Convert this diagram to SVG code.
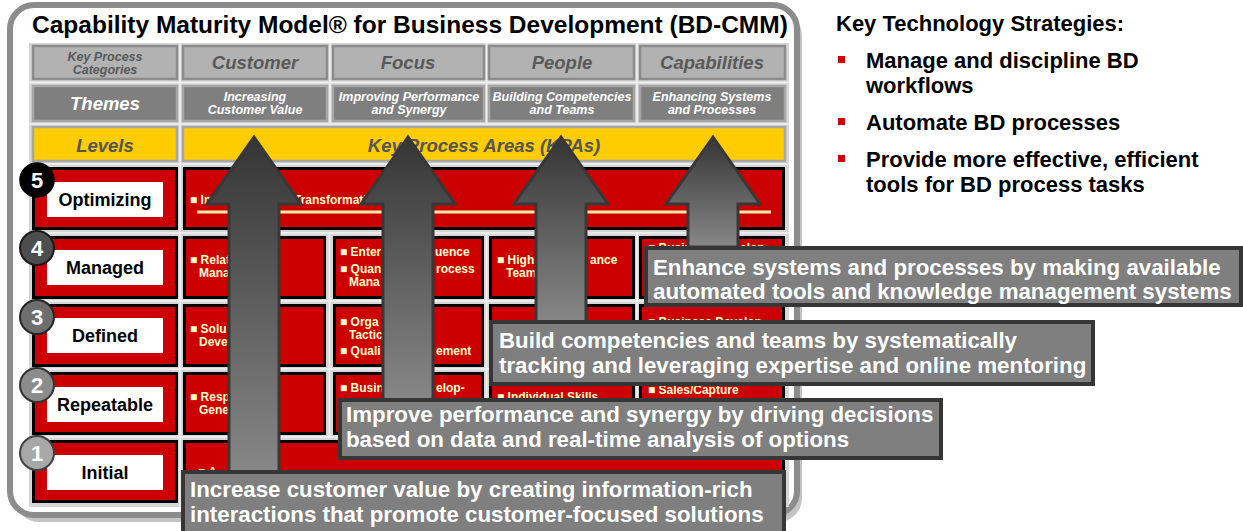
<svg xmlns="http://www.w3.org/2000/svg" width="1243" height="531" viewBox="0 0 1243 531">
<defs>
<linearGradient id="ag" x1="0" y1="0" x2="0" y2="1">
<stop offset="0" stop-color="#353535"/>
<stop offset="1" stop-color="#878787"/>
</linearGradient>
<style>
.t{font-family:"Liberation Sans",Arial,sans-serif;font-weight:bold}
.it{font-style:italic}
.h1{fill:#b2b2b2;stroke:#8c8c8c;stroke-width:2.5}
.h2{fill:#7f7f7f;stroke:#a6a6a6;stroke-width:2.5}
.h3{fill:#ffcc00;stroke:#a6a6a6;stroke-width:2.5}
.red{fill:#cc0000;stroke:#000;stroke-width:3}
.wb{fill:#fff}
.ct{fill:#ffffcc;font-size:12px}
.lv{font-size:18px;fill:#000;text-anchor:middle}
.num{font-size:22px;fill:#fff;text-anchor:middle}
.arrow{fill:url(#ag);stroke:#383838;stroke-width:3;stroke-linejoin:miter}
.co{fill:#7f7f7f;stroke:#363636;stroke-width:4}
.cot{font-size:22.3px;fill:#fff}
.rt{font-size:22px;fill:#000}
.sep{stroke:#f2f2f2;stroke-width:1.5}
</style>
</defs>
<rect width="1243" height="531" fill="#fff"/>

<g id="frame">
<rect x="15" y="12" width="787" height="510" rx="24" fill="#c4c4c4"/>
<rect x="10" y="5" width="787" height="510" rx="24" fill="#fff" stroke="#8c8c8c" stroke-width="6"/>
<rect x="29" y="43" width="760" height="464" fill="#d6d6d6"/>
<g class="sep">
<line x1="29" y1="82.5" x2="789" y2="82.5"/>
<line x1="29" y1="124" x2="789" y2="124"/>
<line x1="29" y1="164" x2="789" y2="164"/>
<line x1="29" y1="233" x2="789" y2="233"/>
<line x1="29" y1="301" x2="789" y2="301"/>
<line x1="29" y1="369" x2="789" y2="369"/>
<line x1="29" y1="437" x2="789" y2="437"/>
<line x1="180" y1="43" x2="180" y2="507"/>
<line x1="330" y1="43" x2="330" y2="124"/>
<line x1="486.5" y1="43" x2="486.5" y2="124"/>
<line x1="637" y1="43" x2="637" y2="124"/>
<line x1="329.5" y1="233" x2="329.5" y2="437"/>
<line x1="486.5" y1="233" x2="486.5" y2="437"/>
<line x1="637" y1="233" x2="637" y2="437"/>
</g>
<text class="t" x="32" y="33" font-size="24.5" fill="#000">Capability Maturity Model® for Business Development (BD-CMM)</text>
</g>

<g id="header-categories">
<rect class="h1" x="33" y="46" width="144" height="33"/>
<text class="t it" font-size="12.5" fill="#595959" text-anchor="middle"><tspan x="105" y="61">Key Process</tspan><tspan x="105" y="74">Categories</tspan></text>
</g>
<g id="cat-customer">
<rect class="h1" x="183" y="46" width="144" height="33"/>
<text class="t it" x="255" y="69" font-size="18.5" fill="#595959" text-anchor="middle">Customer</text>
</g>
<g id="cat-focus">
<rect class="h1" x="333" y="46" width="151" height="33"/>
<text class="t it" x="408" y="69" font-size="18.5" fill="#595959" text-anchor="middle">Focus</text>
</g>
<g id="cat-people">
<rect class="h1" x="489" y="46" width="145" height="33"/>
<text class="t it" x="562" y="69" font-size="18.5" fill="#595959" text-anchor="middle">People</text>
</g>
<g id="cat-capabilities">
<rect class="h1" x="640" y="46" width="145" height="33"/>
<text class="t it" x="712" y="69" font-size="18.5" fill="#595959" text-anchor="middle">Capabilities</text>
</g>

<g id="themes">
<rect class="h2" x="33" y="86" width="144" height="35"/>
<text class="t it" x="105" y="110" font-size="18.5" fill="#fff" text-anchor="middle">Themes</text>
</g>
<g id="theme-customer">
<rect class="h2" x="183" y="86" width="144" height="35"/>
<text class="t it" font-size="12.5" fill="#fff" text-anchor="middle"><tspan x="255" y="101">Increasing</tspan><tspan x="255" y="114">Customer Value</tspan></text>
</g>
<g id="theme-focus">
<rect class="h2" x="333" y="86" width="151" height="35"/>
<text class="t it" font-size="12.5" fill="#fff" text-anchor="middle"><tspan x="409" y="101">Improving Performance</tspan><tspan x="409" y="114">and Synergy</tspan></text>
</g>
<g id="theme-people">
<rect class="h2" x="489" y="86" width="145" height="35"/>
<text class="t it" font-size="12.5" fill="#fff" text-anchor="middle"><tspan x="562" y="101">Building Competencies</tspan><tspan x="562" y="114">and Teams</tspan></text>
</g>
<g id="theme-capabilities">
<rect class="h2" x="640" y="86" width="145" height="35"/>
<text class="t it" font-size="12.5" fill="#fff" text-anchor="middle"><tspan x="712" y="101">Enhancing Systems</tspan><tspan x="712" y="114">and Processes</tspan></text>
</g>

<g id="levels-head">
<rect class="h3" x="33" y="127" width="144" height="34"/>
<text class="t it" x="105" y="152" font-size="18.5" fill="#555" text-anchor="middle">Levels</text>
</g>
<g id="kpa-head">
<rect class="h3" x="183" y="127" width="602" height="34"/>
<text class="t it" x="484" y="152" font-size="18.5" fill="#555" text-anchor="middle">Key Process Areas (KPAs)</text>
</g>

<g id="kpa-cells">
<rect class="red" x="184.5" y="168.5" width="599" height="60"/>
<line x1="197" y1="212" x2="771" y2="212" stroke="#ffe9a8" stroke-width="3"/>
<text class="t ct" x="190" y="204">■ In</text>
<text class="t ct" x="294" y="204">Transformati</text>

<rect class="red" x="184.5" y="237.5" width="140" height="60"/>
<text class="t ct" x="190" y="264">■ Relat</text>
<text class="t ct" x="199" y="277">Mana</text>
<rect class="red" x="334.5" y="237.5" width="148" height="60"/>
<text class="t ct" x="340" y="256">■ Enter</text>
<text class="t ct" x="435" y="256">uence</text>
<text class="t ct" x="340" y="273">■ Quan</text>
<text class="t ct" x="436" y="273">rocess</text>
<text class="t ct" x="349" y="286">Mana</text>
<rect class="red" x="490.5" y="237.5" width="143" height="60"/>
<text class="t ct" x="497" y="264">■ High</text>
<text class="t ct" x="590" y="264">ance</text>
<text class="t ct" x="506" y="277">Team</text>
<rect class="red" x="640.5" y="237.5" width="143" height="60"/>
<text class="t ct" x="648" y="252">■ Busin</text>
<text class="t ct" x="740" y="252">elop</text>

<rect class="red" x="184.5" y="305.5" width="140" height="60"/>
<text class="t ct" x="190" y="333">■ Solu</text>
<text class="t ct" x="199" y="346">Deve</text>
<rect class="red" x="334.5" y="305.5" width="148" height="60"/>
<text class="t ct" x="340" y="326">■ Orga</text>
<text class="t ct" x="349" y="339">Tactic</text>
<text class="t ct" x="340" y="355">■ Quali</text>
<text class="t ct" x="436" y="355">ement</text>
<rect class="red" x="490.5" y="305.5" width="143" height="60"/>
<rect class="red" x="640.5" y="305.5" width="143" height="60"/>
<text class="t ct" x="648" y="326">■ Business Develop</text>

<rect class="red" x="184.5" y="373.5" width="140" height="60"/>
<text class="t ct" x="190" y="401">■ Resp</text>
<text class="t ct" x="199" y="414">Gene</text>
<rect class="red" x="334.5" y="373.5" width="148" height="60"/>
<text class="t ct" x="340" y="392">■ Busin</text>
<text class="t ct" x="436" y="392">elop-</text>
<rect class="red" x="490.5" y="373.5" width="143" height="60"/>
<text class="t ct" x="497" y="401">■ Individual Skills</text>
<rect class="red" x="640.5" y="373.5" width="143" height="60"/>
<text class="t ct" x="648" y="394">■ Sales/Capture</text>

<rect class="red" x="184.5" y="441.5" width="599" height="60"/>
<text class="t ct" x="198" y="476">■ A</text>
</g>

<g id="level-5">
<rect class="red" x="33.5" y="168.5" width="143" height="60"/>
<rect class="wb" x="47" y="182" width="116" height="35"/>
<text class="t lv" x="105" y="205.5">Optimizing</text>
<circle cx="37" cy="180" r="17" fill="#000" stroke="#000" stroke-width="1.5"/>
<text class="t num" x="37" y="188">5</text>
</g>
<g id="level-4">
<rect class="red" x="33.5" y="237.5" width="143" height="60"/>
<rect class="wb" x="47" y="250" width="116" height="35"/>
<text class="t lv" x="105" y="274">Managed</text>
<circle cx="37" cy="248" r="17" fill="#4d4d4d" stroke="#1a1a1a" stroke-width="2"/>
<text class="t num" x="37" y="256">4</text>
</g>
<g id="level-3">
<rect class="red" x="33.5" y="305.5" width="143" height="60"/>
<rect class="wb" x="47" y="318" width="116" height="35"/>
<text class="t lv" x="105" y="342">Defined</text>
<circle cx="37" cy="317" r="17" fill="#6e6e6e" stroke="#262626" stroke-width="2"/>
<text class="t num" x="37" y="325">3</text>
</g>
<g id="level-2">
<rect class="red" x="33.5" y="373.5" width="143" height="60"/>
<rect class="wb" x="47" y="387" width="116" height="35"/>
<text class="t lv" x="105" y="411">Repeatable</text>
<circle cx="37" cy="385" r="17" fill="#8c8c8c" stroke="#333" stroke-width="2"/>
<text class="t num" x="37" y="393">2</text>
</g>
<g id="level-1">
<rect class="red" x="33.5" y="441.5" width="143" height="60"/>
<rect class="wb" x="47" y="455" width="116" height="35"/>
<text class="t lv" x="105" y="479">Initial</text>
<circle cx="37" cy="453" r="17" fill="#a8a8a8" stroke="#404040" stroke-width="2"/>
<text class="t num" x="37" y="461">1</text>
</g>

<g id="connectors">
<polygon class="arrow" points="254,137 301,204 279,204 279,472 229,472 229,204 207,204"/>
<polygon class="arrow" points="408,137 455,204 433,204 433,400 383,400 383,204 361,204"/>
<polygon class="arrow" points="561,137 608,204 586,204 586,322 536,322 536,204 514,204"/>
<polygon class="arrow" points="713,137 760,204 738,204 738,247 688,247 688,204 666,204"/>
</g>

<g id="callout-systems">
<rect class="co" x="646" y="248" width="595" height="57"/>
<text class="t cot"><tspan x="653" y="275">Enhance systems and processes by making available</tspan><tspan x="653" y="299">automated tools and knowledge management systems</tspan></text>
</g>
<g id="callout-competencies">
<rect class="co" x="491" y="322" width="602" height="62"/>
<text class="t cot"><tspan x="499" y="348">Build competencies and teams by systematically</tspan><tspan x="499" y="373">tracking and leveraging expertise and online mentoring</tspan></text>
</g>
<g id="callout-performance">
<rect class="co" x="340" y="400" width="601" height="58"/>
<text class="t cot"><tspan x="346" y="422">Improve performance and synergy by driving decisions</tspan><tspan x="346" y="447">based on data and real-time analysis of options</tspan></text>
</g>
<g id="callout-customer">
<rect class="co" x="183" y="472" width="601" height="64"/>
<text class="t cot"><tspan x="190" y="497">Increase customer value by creating information-rich</tspan><tspan x="190" y="522">interactions that promote customer-focused solutions</tspan></text>
</g>

<g id="strategies">
<text class="t rt" x="836" y="31">Key Technology Strategies:</text>
<rect x="838" y="56" width="7" height="7" fill="#cc0000"/>
<text class="t rt"><tspan x="866" y="68">Manage and discipline BD</tspan><tspan x="866" y="93">workflows</tspan></text>
<rect x="838" y="118" width="7" height="7" fill="#cc0000"/>
<text class="t rt" x="866" y="130">Automate BD processes</text>
<rect x="838" y="155" width="7" height="7" fill="#cc0000"/>
<text class="t rt"><tspan x="866" y="167">Provide more effective, efficient</tspan><tspan x="866" y="192">tools for BD process tasks</tspan></text>
</g>
</svg>
